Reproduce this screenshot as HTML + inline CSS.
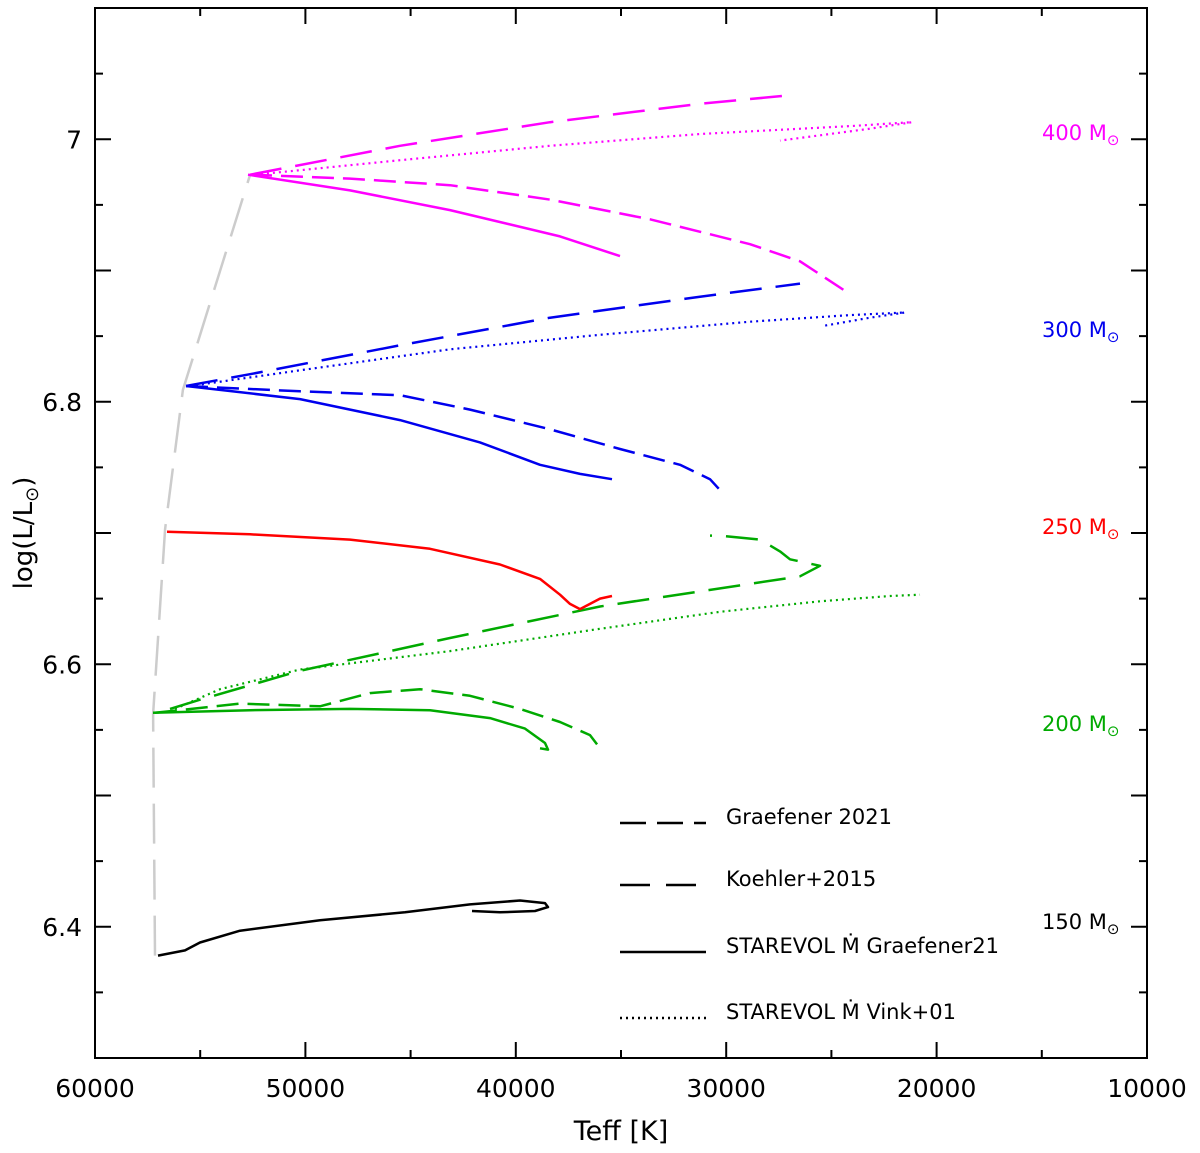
<!DOCTYPE html>
<html><head><meta charset="utf-8"><style>
html,body{margin:0;padding:0;background:#fff;}
svg{display:block;font-family:"DejaVu Sans","Liberation Sans",sans-serif;}
</style></head><body>
<svg id="chart" width="1200" height="1153" viewBox="0 0 1200 1153" xmlns="http://www.w3.org/2000/svg"></svg>
<script>
const xTicks=[60000,50000,40000,30000,20000,10000];
const yTicks=[6.4,6.6,6.8,7];
const zamsT=[57150,57240,56670,55820,52630];
const zamsL=[6.378,6.562,6.703,6.809,6.973];
const m150T=[57006,55722,55010,53108,49306,45266,42176,39800,38612,38469,39087,40751,42081];
const m150L=[6.378,6.382,6.388,6.397,6.405,6.411,6.417,6.420,6.418,6.415,6.412,6.411,6.412];
const m200SolidT=[57243,52633,47880,44077,41225,39562,38612,38469,38850];
const m200SolidL=[6.563,6.565,6.566,6.565,6.559,6.551,6.540,6.535,6.536];
const m200ShortT=[57148,53108,49306,46929,44552,42176,39800,37899,36473,36093];
const m200ShortL=[6.563,6.570,6.568,6.578,6.581,6.576,6.566,6.556,6.546,6.538];
const m200LongT=[56435,55010,50256,43127,35997,26491,25540,26966,27441,28392,30293,30768];
const m200LongL=[6.566,6.573,6.595,6.620,6.644,6.667,6.675,6.680,6.686,6.695,6.698,6.698];
const m200DotT=[56198,54059,50256,43127,35997,30293,25540,22213,20787];
const m200DotL=[6.566,6.581,6.596,6.610,6.627,6.640,6.648,6.652,6.653];
const m250SolidT=[56578,52633,47880,44077,40751,38850,37899,37422,36947,36473,35997,35427];
const m250SolidL=[6.701,6.699,6.695,6.688,6.676,6.665,6.653,6.646,6.642,6.646,6.650,6.652];
const m300SolidT=[55675,50256,45504,41701,38850,36949,35427];
const m300SolidL=[6.812,6.802,6.786,6.769,6.752,6.745,6.741];
const m300ShortT=[55675,50256,45504,42176,38374,35047,32195,30768,30198];
const m300ShortL=[6.812,6.808,6.805,6.794,6.779,6.764,6.752,6.741,6.731];
const m300LongT=[55675,52633,45504,38374,31245,26491];
const m300LongL=[6.812,6.821,6.843,6.864,6.880,6.890];
const m300DotT=[55485,50256,43127,35997,28867,24114,21500,23164,25303];
const m300DotL=[6.812,6.824,6.840,6.851,6.861,6.866,6.868,6.864,6.858];
const m400SolidT=[52728,47880,43127,37899,35047];
const m400SolidL=[6.973,6.961,6.946,6.926,6.911];
const m400ShortT=[52633,47880,43127,38374,33620,28867,26491,24209];
const m400ShortL=[6.973,6.970,6.965,6.954,6.939,6.920,6.907,6.883];
const m400LongT=[52633,45504,38374,31245,27298];
const m400LongL=[6.973,6.995,7.013,7.027,7.033];
const m400DotT=[52395,45504,38374,31245,24114,21167,23164,27441];
const m400DotL=[6.973,6.984,6.995,7.004,7.010,7.013,7.008,6.999];

const NS="http://www.w3.org/2000/svg";
const svg=document.getElementById('chart');
const X0=95,X1=1147,Y0=8,Y1=1058;
function xs(t){return X0+(60000-t)/50000*(X1-X0);}
function ys(l){return Y1-(l-6.3)/0.8*(Y1-Y0);}
function mk(tag,attrs,parent){const e=document.createElementNS(NS,tag);for(const k in attrs)e.setAttribute(k,attrs[k]);(parent||svg).appendChild(e);return e;}

const DASH={solid:null,short:"22,9",long:"32,14",dot:"2,4",zams:"40,16"};
function series(T,L,color,style,name){
  const pts=T.map((t,i)=>xs(t).toFixed(1)+','+ys(L[i]).toFixed(1)).join(' ');
  const p=mk('polyline',{points:pts,fill:'none',stroke:color,'stroke-width':style==='dot'?2.2:2.5,'stroke-linejoin':'round'});
  if(DASH[style])p.setAttribute('stroke-dasharray',DASH[style]);
  
  
}
series(zamsT,zamsL,'#cccccc','zams','zams-line');
series(m150T,m150L,'#000','solid','track-150-solid');
series(m200SolidT,m200SolidL,'#00aa00','solid','track-200-solid');
series(m200ShortT,m200ShortL,'#00aa00','short','track-200-graefener');
series(m200LongT,m200LongL,'#00aa00','long','track-200-koehler');
series(m200DotT,m200DotL,'#00aa00','dot','track-200-vink');
series(m250SolidT,m250SolidL,'#ff0000','solid','track-250-solid');
series(m300SolidT,m300SolidL,'#0000ee','solid','track-300-solid');
series(m300ShortT,m300ShortL,'#0000ee','short','track-300-graefener');
series(m300LongT,m300LongL,'#0000ee','long','track-300-koehler');
series(m300DotT,m300DotL,'#0000ee','dot','track-300-vink');
series(m400SolidT,m400SolidL,'#ff00ff','solid','track-400-solid');
series(m400ShortT,m400ShortL,'#ff00ff','short','track-400-graefener');
series(m400LongT,m400LongL,'#ff00ff','long','track-400-koehler');
series(m400DotT,m400DotL,'#ff00ff','dot','track-400-vink');

// frame
const fr=mk('rect',{x:X0,y:Y0,width:X1-X0,height:Y1-Y0,fill:'none',stroke:'#000','stroke-width':2});


// ticks
for(let t=10000;t<=60000;t+=5000){
  const x=xs(t),len=(t%10000===0)?16:8;
  mk('line',{x1:x,y1:Y1,x2:x,y2:Y1-len,stroke:'#000','stroke-width':2});
  mk('line',{x1:x,y1:Y0,x2:x,y2:Y0+len,stroke:'#000','stroke-width':2});
}
for(let i=0;i<=16;i++){
  const l=6.3+i*0.05,y=ys(l),len=(i%2===0)?16:8;
  mk('line',{x1:X0,y1:y,x2:X0+len,y2:y,stroke:'#000','stroke-width':2});
  mk('line',{x1:X1,y1:y,x2:X1-len,y2:y,stroke:'#000','stroke-width':2});
}
xTicks.forEach(t=>{
  const e=mk('text',{x:xs(t),y:1097,'text-anchor':'middle','font-size':25});
  e.textContent=t;
  
  
});
yTicks.forEach(l=>{
  const e=mk('text',{x:82,y:ys(l)+9,'text-anchor':'end','font-size':25});
  e.textContent=l;
  
  
});
const xt=mk('text',{x:621,y:1140,'text-anchor':'middle','font-size':27});
xt.textContent='Teff  [K]';


const yt=mk('text',{x:0,y:0,'text-anchor':'middle','font-size':26,transform:'translate(32,533) rotate(-90)'});
yt.innerHTML='log(L/L<tspan font-size="18" dy="6">⊙</tspan><tspan dy="-6">)</tspan>';



// mass labels
[[400,'#ff00ff',139],[300,'#0000ee',336],[250,'#ff0000',533],[200,'#00aa00',730],[150,'#000',928]].forEach(m=>{
  const e=mk('text',{x:1042,y:m[2]+1,'font-size':21,fill:m[1]});
  e.innerHTML=m[0]+' M<tspan font-size="15" dy="5">⊙</tspan>';
  
  
});

// legend
[['short','Graefener 2021',823],['long','Koehler+2015',885],['solid','STAREVOL Ṁ Graefener21',952],['dot','STAREVOL Ṁ Vink+01',1018]].forEach((g,i)=>{
  const ln=mk('line',{x1:620,y1:g[2],x2:706,y2:g[2],stroke:'#000','stroke-width':2.5});
  if(DASH[g[0]])ln.setAttribute('stroke-dasharray',g[0]==='short'?'26,11':g[0]==='long'?'30,16':'2,4');
  
  
  const tx=mk('text',{x:726,y:g[2]+1,'font-size':21});
  tx.textContent=g[1];
  
  
});
</script>
</body></html>
